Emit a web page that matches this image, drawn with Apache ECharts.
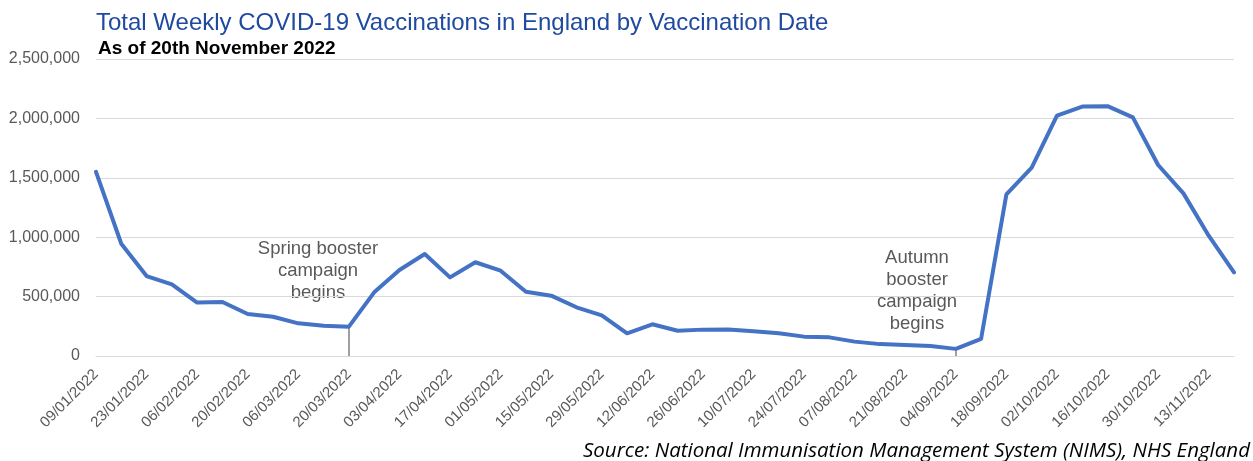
<!DOCTYPE html>
<html>
<head>
<meta charset="utf-8">
<script src="https://cdn.jsdelivr.net/npm/echarts@6/dist/echarts.min.js"></script>
<style>
html,body{margin:0;padding:0;background:#fff;}
#chart{width:1253px;height:461px;}
</style>
</head>
<body>
<div id="chart"></div>
<script>
const weekDates = [
  '09/01/2022','16/01/2022','23/01/2022','30/01/2022','06/02/2022','13/02/2022',
  '20/02/2022','27/02/2022','06/03/2022','13/03/2022','20/03/2022','27/03/2022',
  '03/04/2022','10/04/2022','17/04/2022','24/04/2022','01/05/2022','08/05/2022',
  '15/05/2022','22/05/2022','29/05/2022','05/06/2022','12/06/2022','19/06/2022',
  '26/06/2022','03/07/2022','10/07/2022','17/07/2022','24/07/2022','31/07/2022',
  '07/08/2022','14/08/2022','21/08/2022','28/08/2022','04/09/2022','11/09/2022',
  '18/09/2022','25/09/2022','02/10/2022','09/10/2022','16/10/2022','23/10/2022',
  '30/10/2022','06/11/2022','13/11/2022','20/11/2022'
];
const vaccinations = [
  1550000, 945000, 673000, 603000, 450000, 455000,
  354000, 330000, 275000, 255000, 247000, 536000,
  724000, 859000, 662000, 789000, 718000, 541000,
  508000, 410000, 342000, 191000, 267000, 213000,
  222000, 223000, 208000, 191000, 163000, 157000,
  121000, 100000, 93000, 84000, 60000, 145000,
  1361000, 1585000, 2023000, 2100000, 2103000, 2009000,
  1608000, 1369000, 1013000, 704000
];
const yTicks = { min: 0, max: 2500000, interval: 500000 };
const campaignStarts = ['20/03/2022', '04/09/2022'];
const titleText = 'Total Weekly COVID-19 Vaccinations in England by Vaccination Date';
const subtitleText = 'As of 20th November 2022';
const sourceText = 'Source: National Immunisation Management System (NIMS), NHS England';
const springNote = 'Spring booster\ncampaign\nbegins';
const autumnNote = 'Autumn\nbooster\ncampaign\nbegins';

const chart = echarts.init(document.getElementById('chart'), null, {renderer: 'canvas'});
const FONT = '"Liberation Sans", Arial, sans-serif';

const markLines = campaignStarts.map(d => {
  const v = vaccinations[weekDates.indexOf(d)];
  return [{coord: [d, v]}, {coord: [d, 0]}];
});

chart.setOption({
  animation: false,
  backgroundColor: '#ffffff',
  grid: {left: 96, right: 19, top: 59, bottom: 105, containLabel: false},
  xAxis: {
    type: 'category',
    data: weekDates,
    boundaryGap: false,
    axisLine: {show: true, lineStyle: {color: '#d9d9d9', width: 1}},
    axisTick: {show: false},
    axisLabel: {
      interval: 1,
      rotate: 45,
      margin: 16,
      color: '#595959',
      fontSize: 15,
      fontFamily: FONT
    },
    splitLine: {show: false}
  },
  yAxis: {
    type: 'value',
    min: yTicks.min,
    max: yTicks.max,
    interval: yTicks.interval,
    axisLine: {show: false},
    axisTick: {show: false},
    axisLabel: {
      margin: 16,
      color: '#595959',
      fontSize: 16,
      fontFamily: FONT,
      formatter: v => v.toLocaleString('en-GB')
    },
    splitLine: {show: true, lineStyle: {color: '#d9d9d9', width: 1}}
  },
  series: [{
    type: 'line',
    data: vaccinations,
    showSymbol: false,
    symbol: 'none',
    lineStyle: {color: '#4472C4', width: 4, join: 'round', cap: 'round'},
    z: 3,
    markLine: {
      silent: true,
      symbol: ['none', 'none'],
      label: {show: false},
      lineStyle: {color: '#808080', width: 1.5, type: 'solid'},
      data: markLines,
      z: 2
    }
  }],
  graphic: [
    {type: 'text', left: 96, top: 11, style: {text: titleText, fill: '#1F4AA0', font: '24px ' + FONT}},
    {type: 'text', left: 98, top: 39, style: {text: subtitleText, fill: '#000000', font: 'bold 19px ' + FONT}},
    {type: 'text', x: 318, y: 271, style: {text: springNote, fill: '#595959', font: '18.5px ' + FONT, align: 'center', verticalAlign: 'middle', lineHeight: 22}},
    {type: 'text', x: 917, y: 291, style: {text: autumnNote, fill: '#595959', font: '18.5px ' + FONT, align: 'center', verticalAlign: 'middle', lineHeight: 22}},
    {type: 'text', x: 1250, y: 461, style: {text: sourceText, fill: '#000000', font: 'italic 20.5px "Open Sans", sans-serif', align: 'right', verticalAlign: 'bottom'}}
  ]
});
</script>
</body>
</html>
